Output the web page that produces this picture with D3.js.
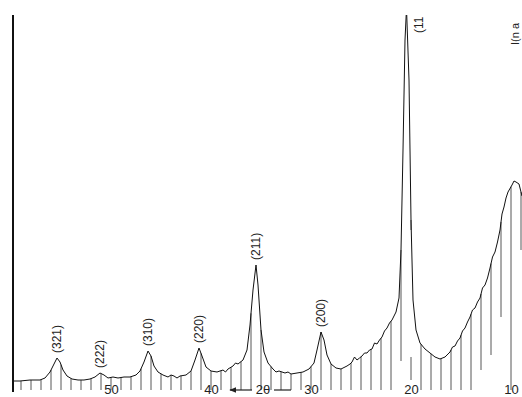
<!DOCTYPE html>
<html>
<head>
<meta charset="utf-8">
<script src="https://cdn.jsdelivr.net/npm/d3@7"></script>
<style>
  body { margin: 0; background: #fff; }
  text { font-family: "Liberation Sans", Arial, sans-serif; fill: #222; }
</style>
</head>
<body>
<svg id="chart" width="522" height="397"></svg>
<script>
var W = 522, H = 397;

// scan: 2theta (deg) and intensity (arb. units)
var twoTheta = [59.8, 59.1, 58.1, 57.1, 56.6, 56.1, 55.7, 55.4, 55.1, 54.8, 54.4, 53.9, 53.3, 52.7, 52.1,
  51.6, 51.1, 50.7, 50.3, 49.8, 49.3, 48.7, 48.1, 47.5, 47.1, 46.7, 46.3, 46.0, 45.7, 45.3, 44.8,
  44.3, 44.0, 43.7, 43.4, 43.1, 42.5, 42.0, 41.6, 41.2, 40.9, 40.5, 40.0, 39.4, 38.8, 38.55, 38.3, 37.8, 37.55, 37.3, 36.8,
  36.4, 36.1, 35.8, 35.5, 35.3, 35.0, 34.7, 34.3, 33.8, 33.5, 33.2, 32.6, 32.3, 32.0, 31.4, 30.8, 30.2, 29.7,
  29.4, 29.0, 28.7, 28.4, 28.0, 27.5, 27.0, 26.4, 26.1, 25.9, 25.65, 25.4, 25.15, 24.9, 24.65, 24.4, 24.15, 23.9, 23.65, 23.4, 23.15, 22.9,
  22.65, 22.4, 22.15, 21.9, 21.5, 21.2, 21.0, 20.8, 20.6, 20.45, 20.2, 20.0, 19.8, 19.5, 19.1, 18.6, 18.1, 17.6,
  17.1, 16.6, 16.1, 15.85, 15.6, 15.35, 15.1, 14.85, 14.6, 14.35, 14.1, 13.85, 13.6, 13.35, 13.1, 12.85, 12.6, 12.35, 12.1,
  11.85, 11.6, 11.35, 11.1, 10.9, 10.7, 10.5, 10.3, 9.9, 9.7, 9.5, 9.2, 8.9];
var intensity = [9, 9, 10, 10, 12, 18, 26, 32, 28, 20, 14, 11, 10, 10, 11,
  13, 17, 15, 12, 13, 12, 13, 13, 15, 19, 28, 39, 34, 24, 18, 15,
  13, 15, 14, 12, 14, 15, 19, 30, 42, 34, 23, 19, 18, 20, 18, 21, 24, 27, 26, 30,
  40, 65, 100, 125, 105, 60, 38, 27, 21, 18, 19, 17, 18, 16, 17, 18, 21, 27,
  40, 58, 50, 35, 26, 22, 21, 24, 26, 28, 33, 30, 32, 34, 37, 37, 40, 41, 47, 46, 50, 53,
  59, 62, 67, 70, 78, 92, 140, 240, 350, 382, 310, 170, 90, 60, 47, 41, 37, 33,
  31, 33, 38, 43, 44, 49, 52, 59, 62, 68, 73, 80, 82, 88, 92, 102, 105, 112, 122,
  133, 138, 148, 160, 176, 183, 192, 198, 205, 209, 208, 206, 194];

// reflections
var hkl = ["(321)", "(222)", "(310)", "(220)", "(211)", "(200)", "(11"];
var hklPos = [55.4, 51.1, 46.3, 41.2, 35.5, 29.0, 20.45];

var tickVals = [50, 40, 30, 20, 10];

// recorder degree marks; where they stop short (intensity level)
var markDeg = d3.range(9, 60);
var markFloor = {9: 140, 11: 73, 12: 35, 13: 20, 20: 160, 21: 29};

var svg = d3.select("#chart");

var x = d3.scaleLinear().domain([10, 50]).range([511, 111]);
var y = d3.scaleLinear().domain([0, 375]).range([390, 15]);

var pts = twoTheta.map(function(t, i){ return [t, intensity[i]]; });
var sorted = pts.slice().sort(function(a, b){ return a[0] - b[0]; });

var valueAt = function(t){
  var i = d3.bisector(function(d){ return d[0]; }).left(sorted, t);
  if (i <= 0) return sorted[0][1];
  if (i >= sorted.length) return sorted[sorted.length - 1][1];
  var a = sorted[i - 1], b = sorted[i];
  return a[1] + (b[1] - a[1]) * (t - a[0]) / (b[0] - a[0]);
};

svg.append("defs").append("clipPath").attr("id", "clip")
  .append("rect").attr("x", 13).attr("y", 15).attr("width", W).attr("height", H);

var plot = svg.append("g").attr("clip-path", "url(#clip)");

// degree marks
plot.selectAll("line.mark").data(markDeg).enter()
  .append("line")
  .attr("class", "mark")
  .attr("x1", function(d){ return x(d); })
  .attr("x2", function(d){ return x(d); })
  .attr("y1", function(d){ return y(valueAt(d)); })
  .attr("y2", function(d){ return y(markFloor[d] || 0); })
  .attr("stroke", "#444")
  .attr("stroke-width", 0.9);

// short extra mark under the big peak
plot.append("line")
  .attr("x1", x(20)).attr("x2", x(20))
  .attr("y1", y(33)).attr("y2", y(10))
  .attr("stroke", "#444").attr("stroke-width", 0.9);

// the scan
plot.append("path")
  .datum(pts)
  .attr("d", d3.line().x(function(d){ return x(d[0]); }).y(function(d){ return y(d[1]); }))
  .attr("fill", "none")
  .attr("stroke", "#111")
  .attr("stroke-width", 1)
  .attr("stroke-linejoin", "round");

// hkl labels
svg.selectAll("text.hkl").data(hkl).enter()
  .append("text")
  .attr("class", "hkl")
  .attr("transform", function(d, i){
    var px = x(hklPos[i]) + (i == 6 ? 12 : 0);
    var py = Math.max(y(valueAt(hklPos[i])) - 5, 33);
    return "translate(" + px + "," + py + ") rotate(-90)";
  })
  .attr("dy", "0.35em")
  .attr("font-size", 12)
  .text(function(d){ return d; });

// intensity axis (left line)
svg.append("line")
  .attr("x1", 13).attr("x2", 13).attr("y1", 15).attr("y2", 392)
  .attr("stroke", "#111").attr("stroke-width", 2);

svg.append("text")
  .attr("transform", "translate(515,45) rotate(-90)")
  .attr("dy", "0.35em")
  .attr("font-size", 11)
  .attr("font-family", "Liberation Serif, serif")
  .text("I(n a");

// 2theta axis labels
var ax = svg.append("g")
  .attr("transform", "translate(0,382)")
  .call(d3.axisBottom(x).tickValues(tickVals).tickSize(0).tickPadding(3));
ax.select(".domain").remove();
ax.selectAll("text").attr("font-size", 13).attr("font-family", "Liberation Sans, Arial, sans-serif").attr("fill", "#222");

svg.append("defs").append("marker")
  .attr("id", "arr").attr("viewBox", "0 0 10 10").attr("refX", 9).attr("refY", 5)
  .attr("markerWidth", 6).attr("markerHeight", 6).attr("orient", "auto")
  .append("path").attr("d", "M0,1L10,5L0,9z").attr("fill", "#222");

svg.append("line")
  .attr("x1", 252).attr("x2", 230).attr("y1", 390).attr("y2", 390)
  .attr("stroke", "#222").attr("stroke-width", 1.2).attr("marker-end", "url(#arr)");
svg.append("text")
  .attr("x", 263).attr("y", 394).attr("text-anchor", "middle").attr("font-size", 13)
  .text("2θ");
svg.append("line")
  .attr("x1", 274).attr("x2", 291).attr("y1", 390).attr("y2", 390)
  .attr("stroke", "#222").attr("stroke-width", 1.2);
</script>
</body>
</html>
